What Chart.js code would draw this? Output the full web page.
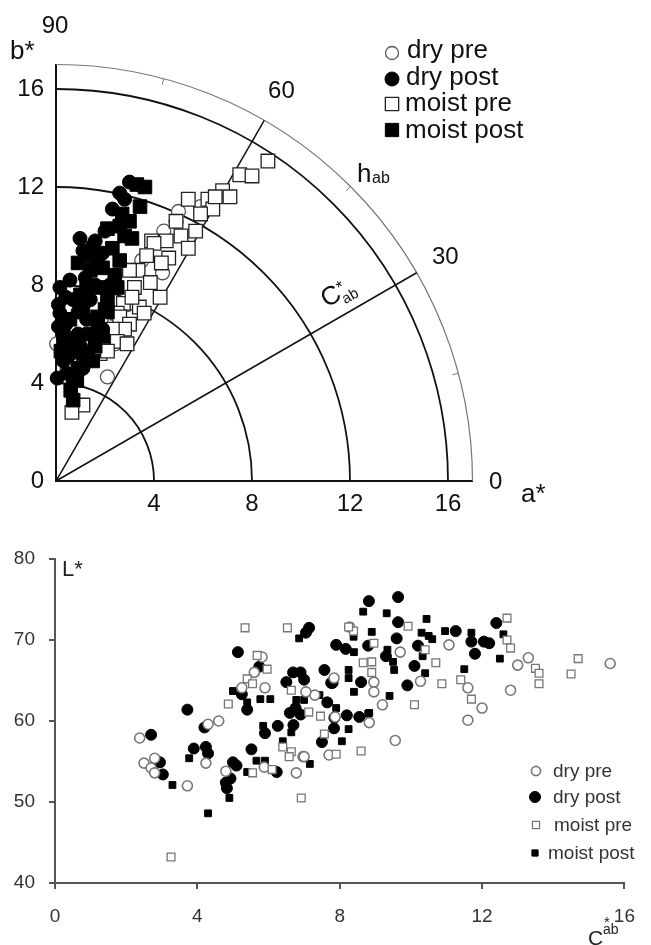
<!DOCTYPE html>
<html><head><meta charset="utf-8">
<script src="https://cdn.jsdelivr.net/npm/chart.js@4.4.1/dist/chart.umd.min.js"></script>
<style>
html,body{margin:0;padding:0;background:#fff;}
#wrap{position:relative;width:651px;height:945px;overflow:hidden;background:#fff;}
#c1{position:absolute;left:0;top:0;width:651px;height:520px;}
#c2{position:absolute;left:0;top:520px;width:651px;height:425px;}
</style></head><body>
<div id="wrap"><canvas id="c1" width="651" height="520"></canvas><canvas id="c2" width="651" height="425"></canvas></div>
<script>
// ---------- Top chart (a*, b*) ----------
const abYTicks = [0, 4, 8, 12, 16];
const abXTicks = [4, 8, 12, 16];
const chromaRings = [4, 8, 12, 16];
const hueRing = 17;
const hueLines = [30, 60];
const hueMinorTicks = [15, 45, 75];
const hueLabels = ['0', '30', '60', '90'];
const hueLabelAngles = [0, 30, 60, 90];

const abDryPre = [[5.0,11.0],[4.9,10.6],[5.9,11.2],[4.35,8.5],[2.1,4.25],[2.4,5.6],[0.03,5.6],[0.45,4.5],[4.4,10.2],[3.5,9.0],[2.9,7.2],[2.4,6.5]];
const abDryPost = [[3.0,12.2],[2.6,11.75],[2.3,11.1],[0.98,9.9],[1.5,9.6],[1.1,9.4],[1.9,9.3],[1.7,9.0],[0.57,8.2],[0.16,7.9],[0.1,7.2],[0.7,7.4],[1.4,7.4],[0.16,6.85],[1.25,6.6],[0.1,6.3],[1.9,6.2],[0.45,5.75],[1.0,5.5],[0.3,4.9],[0.05,4.2],[0.45,4.4],[0.7,4.1],[0.6,5.2],[0.9,6.0],[1.2,8.3],[0.4,6.4],[2.0,10.2],[2.8,11.5],[1.6,8.0],[0.3,5.6],[1.1,4.6],[0.9,6.9],[0.4,7.5],[1.6,9.8],[2.2,8.0]];
const abMoistPre = [[8.65,13.06],[7.5,12.5],[8.0,12.45],[6.8,11.85],[7.1,11.6],[5.4,11.5],[6.2,11.5],[6.4,11.1],[5.7,10.2],[5.1,10.0],[3.9,9.8],[4.5,9.8],[4.0,9.7],[5.4,9.5],[3.7,9.2],[4.6,9.1],[3.35,8.6],[3.0,8.6],[3.85,8.1],[4.25,7.5],[3.2,7.9],[2.75,7.25],[3.4,7.1],[3.6,6.85],[2.5,6.85],[2.6,6.7],[3.0,6.4],[2.8,6.2],[2.3,6.2],[2.5,5.7],[1.9,5.6],[1.8,5.2],[1.1,3.1],[0.65,2.8],[4.9,10.6],[5.9,10.9],[6.5,11.6],[4.3,8.9],[3.1,7.5],[2.1,5.3],[2.9,5.6]];
const abMoistPost = [[3.63,12.0],[3.43,11.2],[3.0,10.6],[2.1,10.3],[3.1,9.9],[2.7,10.9],[2.3,9.5],[0.9,8.9],[1.4,8.6],[1.9,8.7],[1.25,7.9],[2.5,7.9],[2.1,7.4],[1.1,7.1],[0.57,6.6],[1.7,6.7],[1.4,6.0],[0.7,5.8],[1.1,5.2],[0.45,5.1],[1.5,4.9],[0.85,4.1],[0.7,3.3],[2.1,6.9],[1.8,7.9],[2.6,9.0],[3.3,12.1],[2.4,8.4],[1.6,5.5],[0.9,4.6],[1.9,5.9],[0.5,5.5],[1.3,9.2],[2.8,10.0],[1.0,7.6],[0.3,6.0],[0.6,3.7],[2.0,7.0],[1.7,6.2],[1.3,5.0],[0.2,5.3],[2.6,10.4]];

// ---------- Bottom chart (C*ab, L*) ----------
const lTicks = [40, 50, 60, 70, 80];
const cTicks = [0, 4, 8, 12, 16];
const clDryPre = [[5.82,67.9],[5.6,66.0],[7.84,65.3],[5.9,64.1],[4.6,60.0],[4.3,59.6],[2.38,57.9],[4.24,54.8],[2.5,54.8],[2.8,55.4],[2.7,54.2],[2.8,53.6],[3.72,52.0],[4.8,53.8],[5.88,54.3],[6.97,55.6],[6.78,53.6],[7.3,63.2],[7.7,55.8],[7.87,60.5],[8.28,71.6],[9.7,68.5],[11.07,69.4],[10.27,64.9],[11.6,64.1],[12.0,61.6],[11.6,60.1],[9.2,62.0],[8.83,59.8],[8.96,64.8],[8.96,63.6],[13.3,67.8],[13.0,66.9],[12.8,63.8],[15.6,67.1],[9.56,57.6],[7.0,55.6],[5.25,64.1],[7.05,63.6]];
const clDryPost = [[7.14,71.5],[7.05,70.9],[7.9,69.4],[5.14,68.5],[5.74,66.7],[6.69,66.0],[6.9,66.0],[6.5,64.8],[7.0,65.1],[7.57,66.3],[7.76,64.7],[5.25,63.3],[5.4,61.4],[3.72,61.4],[4.2,59.2],[2.7,58.3],[3.9,56.6],[4.24,56.8],[4.3,56.0],[2.95,54.9],[3.03,53.4],[5.0,54.9],[5.1,54.5],[4.93,52.9],[4.8,52.4],[4.83,51.7],[5.52,56.5],[6.23,53.7],[5.9,58.5],[6.26,59.4],[6.6,61.0],[6.76,61.6],[6.9,60.8],[6.7,59.5],[7.65,62.3],[7.84,59.1],[7.5,57.4],[8.82,74.8],[9.64,75.3],[9.64,72.2],[9.6,70.2],[11.26,71.1],[11.7,69.8],[12.05,69.8],[12.2,69.6],[12.4,72.1],[11.8,68.3],[8.17,68.9],[8.8,69.3],[9.3,68.0],[10.2,69.3],[10.1,66.8],[9.9,64.4],[8.55,60.5],[8.2,60.7],[7.85,60.4],[7.8,64.7],[8.6,64.8]];
const clMoistPre = [[5.34,71.5],[6.53,71.5],[5.68,68.1],[5.96,66.4],[5.4,65.2],[5.55,64.6],[4.87,62.1],[5.55,53.6],[6.1,54.0],[6.4,56.8],[6.64,56.2],[6.58,55.6],[6.92,50.5],[7.13,61.1],[7.46,60.6],[7.57,58.4],[7.9,55.9],[9.92,71.7],[8.39,71.1],[8.96,69.6],[12.7,72.7],[12.7,70.0],[12.8,69.0],[13.5,66.5],[13.6,65.9],[13.6,64.6],[14.7,67.7],[14.5,65.8],[10.4,68.8],[10.7,67.2],[10.87,64.6],[11.4,65.1],[11.7,62.7],[10.1,62.0],[8.9,66.0],[8.66,67.2],[8.9,67.3],[8.6,56.3],[3.26,43.2],[6.64,63.8],[8.25,71.6]];
const clMoistPost = [[6.86,70.2],[5.0,63.7],[5.4,62.3],[5.77,62.7],[6.05,62.7],[3.77,55.4],[3.3,52.1],[4.3,48.6],[4.9,50.5],[5.66,55.1],[5.9,55.1],[5.4,53.7],[5.85,59.4],[6.4,57.5],[7.16,54.7],[6.78,62.6],[7.0,62.6],[6.64,58.6],[7.43,63.2],[7.9,61.6],[8.66,73.5],[9.32,73.3],[10.44,72.6],[8.9,71.0],[8.39,70.4],[10.3,70.9],[10.5,70.5],[10.6,70.1],[10.96,71.1],[11.7,70.9],[12.6,70.7],[12.5,67.7],[8.4,68.5],[9.34,68.8],[9.5,67.3],[9.53,66.3],[10.33,68.0],[10.4,65.9],[11.5,66.4],[9.4,63.1],[8.83,61.0],[8.25,66.3],[8.25,65.3],[8.4,63.6],[8.8,60.9],[8.25,59.0],[8.06,57.5]];

const seriesNames = ['dry pre', 'dry post', 'moist pre', 'moist post'];
const FONT = '"Liberation Sans", Arial, Helvetica, sans-serif';
const toXY = arr => arr.map(p => ({x: p[0], y: p[1]}));

// ---------- Styles ----------
const topStyles = [
  {pointStyle:'circle', pointRadius:7, backgroundColor:'#fff', borderColor:'#555', borderWidth:1.3},
  {pointStyle:'circle', pointRadius:7, backgroundColor:'#000', borderColor:'#000', borderWidth:1},
  {pointStyle:'rect', pointRadius:9.6, backgroundColor:'#fff', borderColor:'#222', borderWidth:1.3},
  {pointStyle:'rect', pointRadius:9.6, backgroundColor:'#000', borderColor:'#000', borderWidth:1}
];
const botStyles = [
  {pointStyle:'circle', pointRadius:5, backgroundColor:'#fff', borderColor:'#777', borderWidth:1.6},
  {pointStyle:'circle', pointRadius:5.5, backgroundColor:'#000', borderColor:'#000', borderWidth:1},
  {pointStyle:'rect', pointRadius:5.5, backgroundColor:'#fff', borderColor:'#777', borderWidth:1.3},
  {pointStyle:'rect', pointRadius:4.8, backgroundColor:'#000', borderColor:'#000', borderWidth:1}
];

function drawMarker(ctx, st, x, y, r) {
  ctx.save();
  ctx.fillStyle = st.backgroundColor; ctx.strokeStyle = st.borderColor; ctx.lineWidth = st.borderWidth;
  ctx.beginPath();
  if (st.pointStyle === 'circle') ctx.arc(x, y, r, 0, Math.PI * 2);
  else { const s = r / Math.SQRT2; ctx.rect(x - s, y - s, 2 * s, 2 * s); }
  ctx.fill(); ctx.stroke();
  ctx.restore();
}

// ---------- Top chart ----------
const polarPlugin = {
  id: 'polarGrid',
  beforeDatasetsDraw(chart) {
    const ctx = chart.ctx, xs = chart.scales.x, ys = chart.scales.y;
    const ox = xs.getPixelForValue(0), oy = ys.getPixelForValue(0);
    const u = v => xs.getPixelForValue(v) - ox;
    ctx.save();
    ctx.strokeStyle = '#111'; ctx.lineWidth = 1.8;
    chromaRings.forEach(r => { ctx.beginPath(); ctx.arc(ox, oy, u(r), -Math.PI / 2, 0); ctx.stroke(); });
    ctx.strokeStyle = '#777'; ctx.lineWidth = 1.2;
    ctx.beginPath(); ctx.arc(ox, oy, u(hueRing), -Math.PI / 2, 0); ctx.stroke();
    ctx.strokeStyle = '#111'; ctx.lineWidth = 1.5;
    hueLines.forEach(h => {
      const t = h * Math.PI / 180;
      ctx.beginPath(); ctx.moveTo(ox, oy);
      ctx.lineTo(xs.getPixelForValue(hueRing * Math.cos(t)), ys.getPixelForValue(hueRing * Math.sin(t)));
      ctx.stroke();
    });
    ctx.strokeStyle = '#777'; ctx.lineWidth = 1;
    hueMinorTicks.forEach(h => {
      const t = h * Math.PI / 180;
      ctx.beginPath();
      ctx.moveTo(xs.getPixelForValue(hueRing * Math.cos(t)), ys.getPixelForValue(hueRing * Math.sin(t)));
      ctx.lineTo(xs.getPixelForValue((hueRing - 0.25) * Math.cos(t)), ys.getPixelForValue((hueRing - 0.25) * Math.sin(t)));
      ctx.stroke();
    });
    ctx.restore();
  },
  afterDraw(chart) {
    const ctx = chart.ctx, xs = chart.scales.x, ys = chart.scales.y;
    const ox = xs.getPixelForValue(0), oy = ys.getPixelForValue(0);
    const u = v => xs.getPixelForValue(v) - ox;
    ctx.save();
    ctx.fillStyle = '#111';
    // hue angle labels
    const labelR = [17.95, 18.35, 18.4, 18.6];
    ctx.font = '24px ' + FONT; ctx.textAlign = 'center'; ctx.textBaseline = 'middle';
    hueLabels.forEach((lab, i) => {
      const t = hueLabelAngles[i] * Math.PI / 180, R = u(labelR[i]);
      let x = ox + R * Math.cos(t), y = oy - R * Math.sin(t);
      if (i === 3) x = 55;
      ctx.fillText(lab, x, y + 1);
    });
    ctx.textAlign = 'left'; ctx.textBaseline = 'alphabetic';
    ctx.font = '26px ' + FONT;
    ctx.fillText('b*', 10, 59);
    ctx.fillText('a*', 521, 502);
    ctx.fillText('h', 357, 182);
    ctx.font = '16px ' + FONT;
    ctx.fillText('ab', 372, 183);
    // rotated C*ab along the 30 degree line
    const t30 = 30 * Math.PI / 180, along = u(13.1), perp = 14.5;
    const bx = ox + along * Math.cos(t30) - perp * Math.sin(t30);
    const by = oy - along * Math.sin(t30) - perp * Math.cos(t30);
    ctx.translate(bx, by); ctx.rotate(-t30);
    ctx.font = '26px ' + FONT; ctx.fillText('C', 0, 0);
    ctx.font = '17px ' + FONT; ctx.fillText('*', 19, -6);
    ctx.font = '15px ' + FONT; ctx.fillText('ab', 18, 6);
    ctx.setTransform(1, 0, 0, 1, 0, 0);
    // legend
    const ly = [53, 79, 104, 130], lb = [58, 85, 111, 138], lx = [407, 406, 405, 405];
    const lr = [6.5, 7, 9.4, 9.4];
    ctx.font = '26px ' + FONT; ctx.fillStyle = '#111';
    seriesNames.forEach((n, i) => {
      drawMarker(ctx, topStyles[i], 392, ly[i], lr[i]);
      ctx.fillText(n, lx[i], lb[i]);
    });
    ctx.restore();
  }
};

const topOrder = [3, 1, 2, 0];
new Chart(document.getElementById('c1'), {
  type: 'scatter',
  data: {
    datasets: [abDryPre, abDryPost, abMoistPre, abMoistPost].map((d, i) => Object.assign({
      label: seriesNames[i], data: toXY(d), clip: false, order: topOrder[i]
    }, topStyles[i]))
  },
  options: {
    responsive: false, animation: false, devicePixelRatio: 1, events: [],
    layout: {padding: {left: 0, top: 64.5, right: 178.5, bottom: 0}},
    plugins: {legend: {display: false}, tooltip: {enabled: false}},
    scales: {
      x: {
        type: 'linear', min: 0, max: hueRing,
        afterBuildTicks: s => { s.ticks = abXTicks.map(v => ({value: v})); },
        afterFit: s => { s.height = 39; },
        grid: {display: false, drawTicks: false},
        border: {display: true, color: '#111', width: 2},
        ticks: {padding: 9, color: '#111', font: {family: FONT, size: 24}, maxRotation: 0, autoSkip: false}
      },
      y: {
        type: 'linear', min: 0, max: hueRing,
        afterBuildTicks: s => { s.ticks = abYTicks.map(v => ({value: v})); },
        afterFit: s => { s.width = 56; },
        grid: {display: false, drawTicks: false},
        border: {display: true, color: '#111', width: 2},
        ticks: {padding: 12, color: '#111', font: {family: FONT, size: 24}, autoSkip: false}
      }
    }
  },
  plugins: [polarPlugin]
});

// ---------- Bottom chart ----------
const botPlugin = {
  id: 'botLabels',
  afterDraw(chart) {
    const ctx = chart.ctx;
    ctx.save();
    ctx.fillStyle = '#222'; ctx.textAlign = 'left'; ctx.textBaseline = 'alphabetic';
    ctx.font = '22px ' + FONT;
    ctx.fillText('L*', 62, 56);
    ctx.font = '21px ' + FONT;
    ctx.fillText('C', 588, 425);
    ctx.font = '15px ' + FONT;
    ctx.fillText('*', 604, 407);
    ctx.font = '14px ' + FONT;
    ctx.fillText('ab', 603, 414);
    // legend
    const ly = [251, 277, 305, 333], lx = [553, 553, 554, 548], lmx = [536, 535, 536, 535];
    const lr = [4.6, 5.5, 5, 4.4];
    ctx.font = '19px ' + FONT; ctx.fillStyle = '#333'; ctx.textBaseline = 'middle';
    seriesNames.forEach((n, i) => {
      drawMarker(ctx, botStyles[i], lmx[i], ly[i], lr[i]);
      ctx.fillText(n, lx[i], ly[i] + 1);
    });
    ctx.restore();
  }
};

const botOrder = [1, 3, 0, 2];
new Chart(document.getElementById('c2'), {
  type: 'scatter',
  data: {
    datasets: [clDryPre, clDryPost, clMoistPre, clMoistPost].map((d, i) => Object.assign({
      label: seriesNames[i], data: toXY(d), clip: false, order: botOrder[i]
    }, botStyles[i]))
  },
  options: {
    responsive: false, animation: false, devicePixelRatio: 1, events: [],
    layout: {padding: {left: 0, top: 39, right: 13, bottom: 0}},
    plugins: {legend: {display: false}, tooltip: {enabled: false}},
    scales: {
      x: {
        type: 'linear', min: 0, max: 16,
        afterBuildTicks: s => { s.ticks = cTicks.map(v => ({value: v})); },
        afterFit: s => { s.height = 62; },
        grid: {display: true, drawOnChartArea: false, drawTicks: true, tickLength: 6, color: '#555', lineWidth: 2},
        border: {display: true, color: '#555', width: 2},
        ticks: {padding: 16, color: '#333', font: {family: FONT, size: 19}, maxRotation: 0, autoSkip: false}
      },
      y: {
        type: 'linear', min: 40, max: 80,
        afterBuildTicks: s => { s.ticks = lTicks.map(v => ({value: v})); },
        afterFit: s => { s.width = 55; },
        grid: {display: true, drawOnChartArea: false, drawTicks: true, tickLength: 6, color: '#555', lineWidth: 2},
        border: {display: true, color: '#555', width: 2},
        ticks: {padding: 14, color: '#333', font: {family: FONT, size: 19}, autoSkip: false}
      }
    }
  },
  plugins: [botPlugin]
});
</script>
</body></html>
